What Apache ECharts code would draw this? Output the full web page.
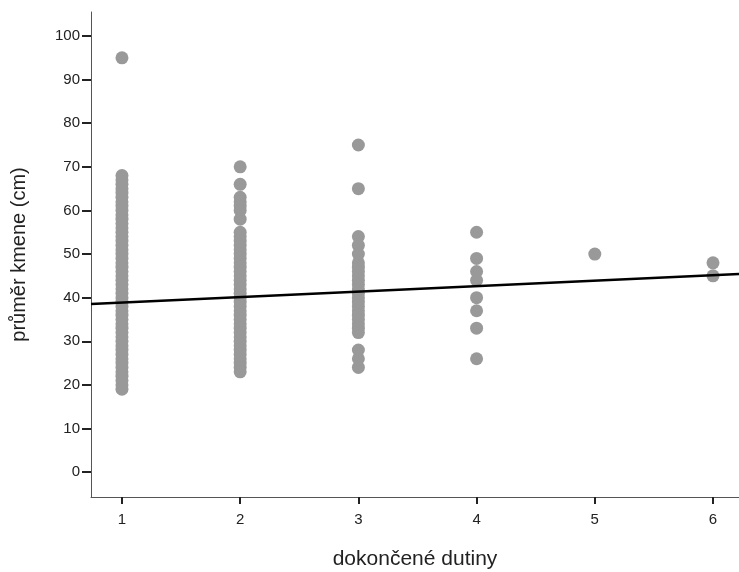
<!DOCTYPE html>
<html>
<head>
<meta charset="utf-8">
<script src="https://cdn.jsdelivr.net/npm/echarts@6/dist/echarts.min.js"></script>
<style>html,body{margin:0;padding:0;background:#fff}#c{width:739px;height:572px}</style>
</head>
<body>
<div id="c"></div>
<script>
// Data
const col1 = [95,68,67,66,65,64,63,62,61,60,59,58,57,56,55,54,53,52,51,50,49,48,47,46,45,44,43,42,41,40,39,38,37,36,35,34,33,32,31,30,29,28,27,26,25,24,23,22,21,20,19];
const col2 = [70,66,63,62,61,60,58,55,54,53,52,51,50,49,48,47,46,45,44,43,42,41,40,39,38,37,36,35,34,33,32,31,30,29,28,27,26,25,24,23];
const col3 = [75,65,54,52,50,48,47,46,45,44,43,42,41,40,39,38,37,36,35,34,33,32,28,26,24];
const col4 = [55,49,46,44,40,37,33,26];
const col5 = [50];
const col6 = [48,45];
const xCategories = [1,2,3,4,5,6];
const yTicks = [0,10,20,30,40,50,60,70,80,90,100];
const regIntercept = 37.6;
const regSlope = 1.26;
const xMin = 0.738, xMax = 6.22, yMin = -5.7, yMax = 105.5;

const columns = [col1,col2,col3,col4,col5,col6];
const points = [];
columns.forEach((col,i)=>col.forEach(v=>points.push([xCategories[i], v])));
const regLine = [[xMin, regIntercept + regSlope*xMin],[xMax, regIntercept + regSlope*xMax]];

const chart = echarts.init(document.getElementById('c'));
const font = '"Liberation Sans", Arial, sans-serif';
chart.setOption({
  animation:false,
  backgroundColor:'#fff',
  grid:{left:91, top:12, right:0, bottom:75, containLabel:false, outerBoundsMode:'none'},
  xAxis:{
    type:'value', min:xMin, max:xMax,
    name:'dokončené dutiny', nameLocation:'middle', nameGap:52,
    nameTextStyle:{fontFamily:font, fontSize:21, color:'#222'},
    axisLine:{show:true, onZero:false, lineStyle:{color:'#555', width:1}},
    axisTick:{show:true, length:7, customValues:xCategories, lineStyle:{color:'#222', width:2}},
    axisLabel:{customValues:xCategories, fontFamily:font, fontSize:15, color:'#222', margin:15},
    splitLine:{show:false}
  },
  yAxis:{
    type:'value', min:yMin, max:yMax,
    name:'průměr kmene (cm)', nameLocation:'middle', nameGap:62, nameRotate:90,
    nameTextStyle:{fontFamily:font, fontSize:20, color:'#222'},
    axisLine:{show:true, onZero:false, lineStyle:{color:'#555', width:1}},
    axisTick:{show:true, length:9, customValues:yTicks, lineStyle:{color:'#222', width:2}},
    axisLabel:{customValues:yTicks, fontFamily:font, fontSize:15, color:'#222', margin:11},
    splitLine:{show:false}
  },
  series:[
    {type:'scatter', data:points, symbolSize:13, itemStyle:{color:'#999999', opacity:1}, z:2},
    {type:'line', data:regLine, showSymbol:false, symbol:'none', lineStyle:{color:'#000', width:2.5}, z:3}
  ]
});
</script>
</body>
</html>
